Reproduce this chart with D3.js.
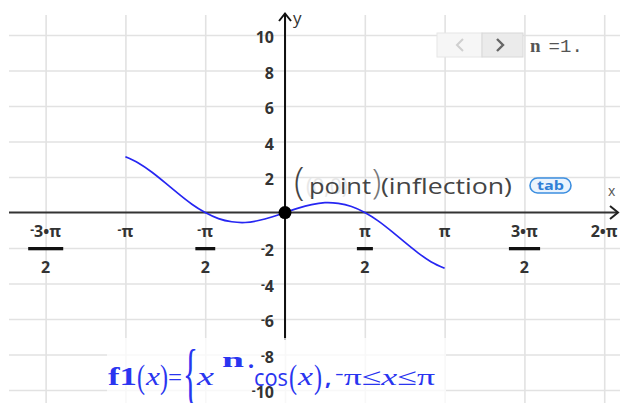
<!DOCTYPE html>
<html><head><meta charset="utf-8">
<script src="https://cdn.jsdelivr.net/npm/d3@7"></script>
<style>html,body{margin:0;padding:0;background:#fff;} svg{display:block}</style>
</head><body>
<svg id="chart" width="620" height="403"></svg>
<script>
const PI = Math.PI;

// f1(x) = x^n·cos(x), n = 1, sampled every π/12 on [-π, π]
const sampleSteps = [-12,-11,-10,-9,-8,-7,-6,-5,-4,-3,-2,-1,0,1,2,3,4,5,6,7,8,9,10,11,12];
const sampleValues = [3.14, 2.78, 2.27, 1.67, 1.05, 0.47, 0, -0.34, -0.52, -0.56, -0.45, -0.25, 0,
                      0.25, 0.45, 0.56, 0.52, 0.34, 0, -0.47, -1.05, -1.67, -2.27, -2.78, -3.14];

// x ticks in multiples of π/2
const xTickSteps = [-3, -2, -1, 1, 2, 3, 4];
const xTickNumerators = ["-3•π", "-π", "-π", "π", "π", "3•π", "2•π"];
const xTickDenominators = ["2", "", "2", "2", "", "2", ""];
const xGridSteps = [-3, -2, -1, 0, 1, 2, 3, 4];

const yTicks = [-10, -8, -6, -4, -2, 2, 4, 6, 8, 10];

const pointX = [0];
const pointY = [0];

const svg = d3.select("#chart");
const W = 620, H = 403;
const plotLeft = 9, plotTop = 15;

const x = d3.scaleLinear().domain([-5.433, 6.594]).range([plotLeft, W]);
const y = d3.scaleLinear().domain([-10.73, 11.13]).range([H, plotTop]);

const gridColor = "#e2e2e2";

// grid
const gx = svg.append("g")
  .attr("transform", `translate(0,${H})`)
  .call(d3.axisBottom(x).tickValues(xGridSteps.map(k => k * PI / 2)).tickSize(-(H - plotTop)).tickFormat(""));
gx.select(".domain").remove();
gx.selectAll("line").attr("stroke", gridColor).attr("stroke-width", 1.6);

const gy = svg.append("g")
  .attr("transform", `translate(${plotLeft},0)`)
  .call(d3.axisLeft(y).tickValues(yTicks).tickSize(-(W - plotLeft)).tickFormat(""));
gy.select(".domain").remove();
gy.selectAll("line").attr("stroke", gridColor).attr("stroke-width", 1.6);

// axes
svg.append("line").attr("x1", plotLeft).attr("x2", W - 2).attr("y1", y(0)).attr("y2", y(0))
  .attr("stroke", "#333").attr("stroke-width", 2);
svg.append("path")
  .attr("d", `M${W - 10},${y(0) - 6.5}L${W - 2},${y(0)}L${W - 10},${y(0) + 6.5}`)
  .attr("fill", "none").attr("stroke", "#222").attr("stroke-width", 2);
svg.append("line").attr("x1", x(0)).attr("x2", x(0)).attr("y1", 13).attr("y2", 340)
  .attr("stroke", "#111").attr("stroke-width", 2);
svg.append("path")
  .attr("d", `M${x(0) - 6},21L${x(0)},13.5L${x(0) + 6},21`)
  .attr("fill", "none").attr("stroke", "#111").attr("stroke-width", 2);

svg.append("text").attr("x", 293).attr("y", 24).text("y")
  .attr("font-family", "Open Sans, sans-serif").attr("font-size", 17).attr("fill", "#333");
svg.append("text").attr("x", 608).attr("y", 196).text("x")
  .attr("font-family", "Open Sans, sans-serif").attr("font-size", 14).attr("fill", "#555");

// curve
const line = d3.line()
  .x(d => x(d[0] * PI / 12))
  .y(d => y(d[1]))
  .curve(d3.curveNatural);
svg.append("path")
  .datum(sampleSteps.map((k, i) => [k, sampleValues[i]]))
  .attr("d", line)
  .attr("fill", "none").attr("stroke", "#2626f2").attr("stroke-width", 1.7);

// translucent panel behind the function definition
svg.append("rect").attr("x", 107).attr("y", 338).attr("width", 339).attr("height", 65)
  .attr("fill", "#fff").attr("opacity", 0.75);

// label helper: leading minus drawn small and raised
function labelText(sel, s) {
  if (s.startsWith("-")) {
    sel.append("tspan").attr("font-size", "0.75em").attr("dy", "-0.25em").text("-");
    sel.append("tspan").attr("dy", "0.19em").text(s.slice(1));
  } else {
    sel.text(s);
  }
}

const labelFont = "Open Sans, sans-serif";
const labelColor = "#333";

// y tick labels
yTicks.forEach(v => {
  const t = svg.append("text")
    .attr("x", 274).attr("y", y(v) + 8)
    .attr("text-anchor", "end")
    .attr("font-family", labelFont).attr("font-weight", 700).attr("font-size", 16)
    .attr("fill", labelColor);
  labelText(t, String(v));
});

// x tick labels
xTickSteps.forEach((k, i) => {
  const cx = x(k * PI / 2);
  const num = xTickNumerators[i];
  const den = xTickDenominators[i];
  const t = svg.append("text")
    .attr("x", cx).attr("y", 237)
    .attr("text-anchor", "middle")
    .attr("font-family", labelFont).attr("font-weight", 700).attr("font-size", 16)
    .attr("fill", labelColor);
  labelText(t, num);
  if (den) {
    const bb = t.node().getBBox();
    svg.append("rect").attr("x", bb.x - 2).attr("y", 247).attr("width", bb.width + 4).attr("height", 3.3)
      .attr("fill", "#111");
    svg.append("text").attr("x", cx).attr("y", 273).attr("text-anchor", "middle")
      .attr("font-family", labelFont).attr("font-weight", 700).attr("font-size", 16)
      .attr("fill", labelColor).text(den);
  }
});

// point at the origin
svg.selectAll("circle.pt").data(pointX).join("circle")
  .attr("class", "pt")
  .attr("cx", d => x(d)).attr("cy", (d, i) => y(pointY[i]))
  .attr("r", 6.5).attr("fill", "#000");

// point label
svg.append("text").attr("x", 306).attr("y", 194).text("(0,0)")
  .attr("font-family", labelFont).attr("font-size", 21).attr("fill", "#e8e8e8");
svg.append("text").attr("x", 294).attr("y", 195).text("(")
  .attr("font-family", labelFont).attr("font-weight", 300).attr("font-size", 38).attr("fill", "#444");
svg.append("text").attr("x", 309).attr("y", 194).text("point")
  .attr("font-family", labelFont).attr("font-size", 22).attr("fill", "#444")
  .attr("textLength", 62).attr("lengthAdjust", "spacingAndGlyphs");
svg.append("text").attr("x", 372).attr("y", 194).text(")")
  .attr("font-family", labelFont).attr("font-weight", 300).attr("font-size", 34).attr("fill", "#777");
svg.append("text").attr("x", 381).attr("y", 194).text("(inflection)")
  .attr("font-family", labelFont).attr("font-size", 22).attr("fill", "#444")
  .attr("textLength", 131).attr("lengthAdjust", "spacingAndGlyphs");

// tab badge
svg.append("rect").attr("x", 530).attr("y", 178).attr("width", 41).attr("height", 15).attr("rx", 7.5)
  .attr("fill", "#eaf3fd").attr("stroke", "#3d8fe0").attr("stroke-width", 1.6);
svg.append("text").attr("x", 550.5).attr("y", 190).attr("text-anchor", "middle").text("tab")
  .attr("font-family", labelFont).attr("font-weight", 700).attr("font-size", 13).attr("fill", "#2f7fd6")
  .attr("textLength", 27).attr("lengthAdjust", "spacingAndGlyphs");

// slider stepper for n
svg.append("rect").attr("x", 437).attr("y", 33).attr("width", 45).attr("height", 24)
  .attr("fill", "#f6f6f6").attr("stroke", "#e6e6e6");
svg.append("rect").attr("x", 482).attr("y", 33).attr("width", 41).attr("height", 24)
  .attr("fill", "#ebebeb").attr("stroke", "#d8d8d8");
svg.append("path").attr("d", "M463,39L457,45L463,51").attr("fill", "none")
  .attr("stroke", "#cfcfcf").attr("stroke-width", 2);
svg.append("path").attr("d", "M497,39L503,45L497,51").attr("fill", "none")
  .attr("stroke", "#666").attr("stroke-width", 2.4);
const nText = svg.append("text").attr("x", 530).attr("y", 52)
  .attr("font-family", "Liberation Mono, monospace").attr("font-size", 19).attr("fill", "#555");
nText.append("tspan").attr("font-weight", 700).attr("font-family", "Liberation Serif, serif").text("n");
nText.append("tspan").attr("dx", 8).text("=1.");

// function definition
const blue = "#2a35f0";
const serif = "Liberation Serif, serif";
const sans = "Open Sans, sans-serif";
function piece(str, px, py, opts) {
  const t = svg.append("text").attr("x", px).attr("y", py).text(str).attr("fill", blue)
    .attr("font-family", opts.family || serif).attr("font-size", opts.size || 24);
  if (opts.weight) t.attr("font-weight", opts.weight);
  if (opts.italic) t.attr("font-style", "italic");
  if (opts.len) t.attr("textLength", opts.len).attr("lengthAdjust", "spacingAndGlyphs");
  return t;
}
piece("f1", 108, 385, {weight: 700, size: 26, len: 29});
piece("(", 137, 388, {size: 34, len: 8});
piece("x", 146, 385, {italic: true, size: 26, len: 14});
piece(")", 160, 388, {size: 34, len: 8});
piece("=", 168, 385, {size: 24, len: 14});
piece("{", 183, 396, {size: 68, len: 15});
piece("x", 197, 385, {italic: true, size: 26, len: 17});
piece("n", 222, 367, {weight: 700, size: 21, len: 22});
piece("·", 247, 374, {weight: 700, size: 24});
piece("cos", 254, 386, {family: sans, size: 23, len: 34});
piece("(", 289, 388, {size: 34, len: 8});
piece("x", 298, 385, {italic: true, size: 26, len: 15});
piece(")", 314, 388, {size: 34, len: 8});
piece(",", 325, 385, {family: sans, weight: 700, size: 22});
const rng = svg.append("text").attr("x", 335).attr("y", 385).attr("fill", blue)
  .attr("font-family", sans).attr("font-size", 24)
  .attr("textLength", 100).attr("lengthAdjust", "spacingAndGlyphs");
rng.append("tspan").attr("font-size", 18).attr("dy", -5).text("-");
rng.append("tspan").attr("dy", 5).attr("font-family", serif).text("π≤");
rng.append("tspan").attr("font-family", serif).attr("font-style", "italic").text("x");
rng.append("tspan").attr("font-family", serif).text("≤π");
</script>
</body></html>
